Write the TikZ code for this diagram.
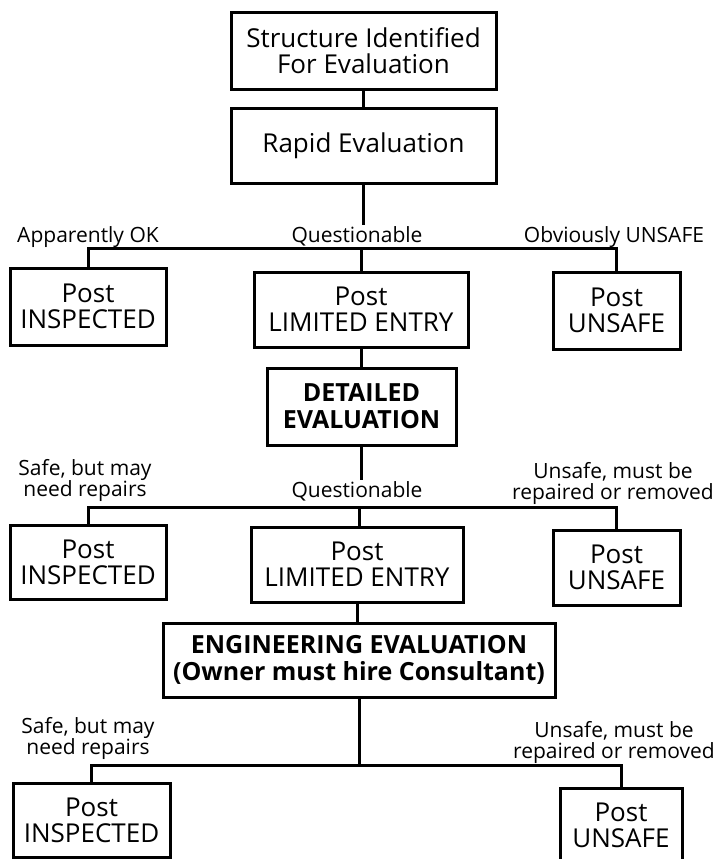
\documentclass[tikz,border=0pt]{standalone}
\usepackage{fontspec}
\setmainfont{Open Sans}
\usetikzlibrary{positioning}

\tikzset{
  stepbox/.style={draw, line width=3pt, align=center, inner sep=0pt,
    font=\fontsize{26}{26}\selectfont},
  boldbox/.style={stepbox, font=\fontsize{25}{27}\selectfont\bfseries},
  branch/.style={align=center, inner sep=1pt, font=\fontsize{21}{21}\selectfont},
  wire/.style={line width=3pt}
}

\begin{document}
\begin{tikzpicture}[x=1pt, y=-1pt]

            \useasboundingbox (0,0) rectangle (720,859);

            % Define the column positions
            \def\xl{88}
            \def\xm{361}
            \def\xr{616.5}

            % First stage
            \node[stepbox, minimum width=265, minimum height=76] (struct) at (363.5,51) {Structure Identified\\For Evaluation};
            \node[stepbox, minimum width=265, minimum height=75] (rapid) at (363.5,145.5) {Rapid Evaluation};
            \draw[wire] (struct) -- (rapid);

            \node[branch, anchor=base] (ok1) at (88,242) {Apparently OK};
            \node[branch, anchor=base] (quest1) at (357,242) {Questionable};
            \node[branch, anchor=base] (bad1) at (614,242) {Obviously UNSAFE};
            \draw[wire] (rapid) -- (rapid |- quest1.north);

            \node[stepbox, minimum width=156, minimum height=77] (insp1) at (\xl,306.5) {Post\\INSPECTED};
            \node[stepbox, minimum width=214, minimum height=75] (lim1) at (\xm,309.5) {Post\\LIMITED ENTRY};
            \node[stepbox, minimum width=127, minimum height=77] (unsafe1) at (\xr,310.5) {Post\\UNSAFE};
            \coordinate (bus1) at (\xm,248);
            \draw[wire] (insp1.north) |- (bus1) -| (unsafe1.north);
            \draw[wire] (bus1) -- (lim1.north);

            % Second stage
            \node[boldbox, minimum width=189, minimum height=77] (detail) at (361.5,406.5) {DETAILED\\EVALUATION};
            \draw[wire] (lim1) -- (lim1 |- detail.north);

            \node[branch] (ok2) at (85,480) {Safe, but may\\need repairs};
            \node[branch, anchor=base] (quest2) at (357,497) {Questionable};
            \node[branch] (bad2) at (613,483) {Unsafe, must be\\repaired or removed};
            \draw[wire] (detail) -- (detail |- quest2.north);

            \node[stepbox, minimum width=156, minimum height=74] (insp2) at (\xl,562) {Post\\INSPECTED};
            \node[stepbox, minimum width=212, minimum height=75] (lim2) at (357,564.5) {Post\\LIMITED ENTRY};
            \node[stepbox, minimum width=127, minimum height=75] (unsafe2) at (\xr,567.5) {Post\\UNSAFE};
            \coordinate (bus2) at (359,507);
            \draw[wire] (insp2.north) |- (bus2) -| (unsafe2.north);
            \draw[wire] (bus2) -- (bus2 |- lim2.north);

            % Third stage
            \node[boldbox, minimum width=392, minimum height=74] (eng) at (359,660) {ENGINEERING EVALUATION\\(Owner must hire Consultant)};
            \draw[wire] (lim2) -- (lim2 |- eng.north);

            \node[branch] (ok3) at (88,738) {Safe, but may\\need repairs};
            \node[branch] (bad3) at (614,742) {Unsafe, must be\\repaired or removed};

            \node[stepbox, minimum width=157, minimum height=74] (insp3) at (91.5,820) {Post\\INSPECTED};
            \node[stepbox, minimum width=122, minimum height=74] (unsafe3) at (621,825) {Post\\UNSAFE};
            \coordinate (bus3) at (359,765);
            \draw[wire] (eng) -- (bus3);
            \draw[wire] (insp3.north) |- (bus3) -| (unsafe3.north);

        \end{tikzpicture}
\end{document}
